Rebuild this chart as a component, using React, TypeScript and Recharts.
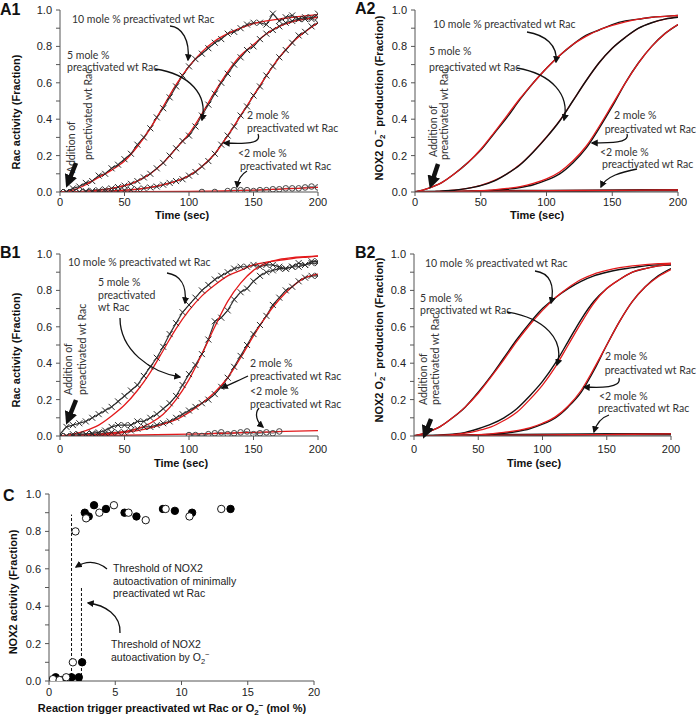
import React from 'react';
import { ComposedChart, ScatterChart, Line, Scatter, XAxis, YAxis, ReferenceLine } from 'recharts';

// ---------- data ----------
const T5 = [0, 5, 10, 15, 20, 25, 30, 35, 40, 45, 50, 55, 60, 65, 70, 75, 80, 85, 90, 95, 100,
  105, 110, 115, 120, 125, 130, 135, 140, 145, 150, 155, 160, 165, 170, 175, 180, 185, 190, 195, 200];
const T10 = [0, 10, 20, 30, 40, 50, 60, 70, 80, 90, 100, 110, 120, 130, 140, 150, 160, 170, 180, 190, 200];
const T50 = [0, 50, 100, 150, 200];

// A1 (Rac activity, data at 5 s, fits at 10 s)
const a1Data10 = [0, 0, 0.02, 0.03, 0.05, 0.06, 0.09, 0.1, 0.13, 0.15, 0.18, 0.21, 0.26, 0.3, 0.35, 0.41, 0.46, 0.52, 0.58, 0.64, 0.69,
  0.73, 0.76, 0.79, 0.82, 0.84, 0.87, 0.88, 0.9, 0.92, 0.93, 0.93, 0.92, 0.98, 0.94, 0.96, 0.97, 0.95, 0.96, 0.95, 0.98];
const a1Fit10 = [0, 0.01, 0.04, 0.08, 0.12, 0.17, 0.25, 0.35, 0.47, 0.59, 0.69, 0.77, 0.83, 0.87, 0.9, 0.925, 0.94, 0.95, 0.96, 0.968, 0.975];
const a1Data5 = [0, 0, 0, 0, 0.005, 0.007, 0.01, 0.015, 0.02, 0.027, 0.035, 0.045, 0.06, 0.08, 0.1, 0.13, 0.16, 0.2, 0.24, 0.28, 0.31,
  0.36, 0.42, 0.48, 0.54, 0.6, 0.65, 0.7, 0.74, 0.78, 0.8, 0.84, 0.87, 0.89, 0.91, 0.93, 0.94, 0.95, 0.95, 0.96, 0.96];
const a1Fit5 = [0, 0, 0.005, 0.01, 0.02, 0.035, 0.06, 0.1, 0.16, 0.24, 0.32, 0.43, 0.55, 0.66, 0.75, 0.81, 0.87, 0.91, 0.935, 0.95, 0.96];
const a1Data2 = [0, 0, 0, 0, 0, 0, 0, 0.003, 0.005, 0.007, 0.01, 0.012, 0.015, 0.02, 0.025, 0.03, 0.04, 0.05, 0.06, 0.07, 0.09,
  0.11, 0.14, 0.17, 0.21, 0.26, 0.31, 0.36, 0.42, 0.47, 0.53, 0.58, 0.64, 0.69, 0.74, 0.78, 0.82, 0.86, 0.88, 0.91, 0.93];
const a1Fit2 = [0, 0, 0, 0.003, 0.005, 0.01, 0.015, 0.025, 0.04, 0.06, 0.09, 0.14, 0.21, 0.31, 0.42, 0.53, 0.64, 0.74, 0.82, 0.88, 0.93];
const a1LowT = [110, 120, 130, 135, 140, 145, 150, 155, 160, 165, 170, 175, 180, 185, 190, 195, 200];
const a1LowData = [0, 0, 0.005, 0.01, 0.01, 0.01, 0.005, 0.01, 0.01, 0.015, 0.015, 0.02, 0.02, 0.02, 0.025, 0.03, 0.025];
const a1LowFit = [0, 0.001, 0.003, 0.01, 0.025];

// A2 (NOX2 O2- production)
const a2Data10 = [0, 0.02, 0.05, 0.1, 0.16, 0.23, 0.32, 0.41, 0.51, 0.6, 0.68, 0.75, 0.81, 0.86, 0.89, 0.92, 0.94, 0.95, 0.96, 0.965, 0.97];
const a2Fit10 = [0, 0.02, 0.05, 0.1, 0.16, 0.235, 0.325, 0.42, 0.515, 0.6, 0.68, 0.75, 0.81, 0.855, 0.89, 0.915, 0.935, 0.95, 0.96, 0.965, 0.97];
const a2Data5 = [0, 0, 0.005, 0.01, 0.02, 0.035, 0.06, 0.1, 0.15, 0.22, 0.3, 0.39, 0.5, 0.61, 0.71, 0.79, 0.85, 0.9, 0.93, 0.95, 0.96];
const a2Fit5 = [0, 0, 0.005, 0.01, 0.02, 0.036, 0.062, 0.1, 0.152, 0.222, 0.302, 0.392, 0.5, 0.61, 0.71, 0.79, 0.85, 0.9, 0.93, 0.95, 0.962];
const a2Data2 = [0, 0, 0, 0, 0.003, 0.005, 0.01, 0.015, 0.025, 0.04, 0.065, 0.1, 0.16, 0.24, 0.35, 0.47, 0.6, 0.71, 0.8, 0.87, 0.92];
const a2Fit2 = [0, 0, 0, 0.002, 0.004, 0.007, 0.012, 0.02, 0.03, 0.047, 0.072, 0.11, 0.17, 0.25, 0.36, 0.48, 0.6, 0.71, 0.8, 0.87, 0.92];
const a2LowData = [0, 0.003, 0.006, 0.008, 0.01];
const a2LowFit = [0, 0.004, 0.007, 0.009, 0.011];

// B1 (Rac activity)
const b1Data10 = [0.01, 0.05, 0.06, 0.07, 0.08, 0.1, 0.12, 0.14, 0.16, 0.19, 0.22, 0.25, 0.28, 0.33, 0.38, 0.43, 0.49, 0.56, 0.62, 0.68, 0.72,
  0.76, 0.8, 0.83, 0.86, 0.88, 0.9, 0.92, 0.93, 0.93, 0.94, 0.93, 0.94, 0.94, 0.93, 0.92, 0.93, 0.95, 0.94, 0.96, 0.96];
const b1Fit10 = [0, 0.01, 0.03, 0.06, 0.11, 0.17, 0.25, 0.35, 0.47, 0.59, 0.69, 0.77, 0.83, 0.88, 0.91, 0.94, 0.955, 0.965, 0.975, 0.982, 0.988];
const b1Data5 = [0, 0, 0.01, 0.01, 0.01, 0.015, 0.02, 0.03, 0.05, 0.06, 0.06, 0.06, 0.08, 0.08, 0.1, 0.12, 0.15, 0.18, 0.22, 0.28, 0.34,
  0.39, 0.45, 0.53, 0.63, 0.65, 0.69, 0.75, 0.79, 0.81, 0.85, 0.88, 0.9, 0.91, 0.92, 0.92, 0.93, 0.93, 0.94, 0.95, 0.95];
const b1Fit5 = [0, 0, 0.005, 0.01, 0.015, 0.025, 0.04, 0.07, 0.12, 0.2, 0.31, 0.45, 0.6, 0.74, 0.84, 0.91, 0.95, 0.97, 0.98, 0.985, 0.99];
const b1Data2 = [0, 0, 0, 0.005, 0.01, 0.01, 0.01, 0.015, 0.02, 0.02, 0.02, 0.03, 0.04, 0.05, 0.05, 0.06, 0.07, 0.08, 0.1, 0.12, 0.14,
  0.16, 0.18, 0.2, 0.23, 0.27, 0.32, 0.38, 0.44, 0.5, 0.56, 0.61, 0.66, 0.72, 0.76, 0.8, 0.82, 0.85, 0.87, 0.88, 0.88];
const b1Fit2 = [0, 0, 0.003, 0.006, 0.01, 0.02, 0.03, 0.045, 0.065, 0.09, 0.13, 0.18, 0.24, 0.32, 0.43, 0.55, 0.66, 0.75, 0.82, 0.87, 0.89];
const b1LowT = [100, 105, 110, 115, 120, 125, 130, 135, 140, 145, 150, 155, 160, 165, 170];
const b1LowData = [0.005, 0.005, 0, 0.01, 0.015, 0.02, 0.01, 0.015, 0.02, 0.025, 0.01, 0.015, 0.02, 0.015, 0.025];
const b1LowFit = [0, 0.004, 0.01, 0.02, 0.03];

// B2 (NOX2 O2- production)
const b2Data10 = [0, 0.02, 0.05, 0.1, 0.16, 0.24, 0.33, 0.43, 0.53, 0.62, 0.7, 0.76, 0.81, 0.85, 0.88, 0.9, 0.915, 0.925, 0.935, 0.94, 0.94];
const b2Fit10 = [0, 0.02, 0.05, 0.1, 0.16, 0.235, 0.325, 0.42, 0.52, 0.61, 0.69, 0.76, 0.815, 0.86, 0.89, 0.91, 0.925, 0.935, 0.942, 0.947, 0.95];
const b2Data5 = [0, 0, 0.005, 0.01, 0.02, 0.04, 0.065, 0.1, 0.15, 0.22, 0.3, 0.4, 0.52, 0.64, 0.74, 0.81, 0.86, 0.9, 0.92, 0.935, 0.94];
const b2Fit5 = [0, 0, 0.004, 0.008, 0.016, 0.03, 0.05, 0.085, 0.13, 0.2, 0.28, 0.38, 0.5, 0.62, 0.73, 0.81, 0.86, 0.9, 0.92, 0.935, 0.945];
const b2Data2 = [0, 0, 0, 0, 0.003, 0.005, 0.01, 0.015, 0.025, 0.04, 0.065, 0.1, 0.16, 0.24, 0.36, 0.5, 0.63, 0.74, 0.82, 0.88, 0.92];
const b2Fit2 = [0, 0, 0, 0.002, 0.004, 0.007, 0.012, 0.02, 0.03, 0.045, 0.07, 0.105, 0.165, 0.25, 0.37, 0.5, 0.63, 0.74, 0.82, 0.875, 0.915];
const b2LowData = [0, 0.004, 0.007, 0.009, 0.01];
const b2LowFit = [0, 0.003, 0.006, 0.008, 0.012];

// C (NOX2 activity vs trigger mol %)
const cFilledX = [0.5, 0.95, 1.7, 2.25, 2.5, 2.7, 3.0, 3.4, 4.3, 5.7, 6.6, 8.6, 9.5, 10.8, 13.7];
const cFilledY = [0.02, 0.005, 0.02, 0.02, 0.1, 0.9, 0.88, 0.94, 0.92, 0.9, 0.88, 0.92, 0.91, 0.9, 0.92];
const cOpenX = [0.05, 0.3, 0.8, 1.3, 1.8, 2.0, 2.8, 3.8, 4.9, 6.0, 7.3, 8.8, 10.6, 13.0];
const cOpenY = [0, 0.01, 0.005, 0.02, 0.1, 0.8, 0.87, 0.9, 0.94, 0.9, 0.86, 0.92, 0.88, 0.92];
const cThresholdRac = [1.7, 0.89];
const cThresholdO2 = [2.45, 0.5];

const timeTicks = [0, 50, 100, 150, 200];
const fracTicks = [0, 0.1, 0.2, 0.3, 0.4, 0.5, 0.6, 0.7, 0.8, 0.9, 1.0];
const molTicks = [0, 5, 10, 15, 20];

// ---------- helpers ----------
const pts = (ts: number[], ys: number[]) => ts.map((t, i) => ({ t, y: ys[i] }));
const xy = (xs: number[], ys: number[]) => xs.map((x, i) => ({ x, y: ys[i] }));

const F_TICK = "'Liberation Sans', Arial, sans-serif";
const F_ANN = "Lato, 'Open Sans', sans-serif";
const RED = '#e31a1c';
const AX = '#555';

const fracFmt = (v: number) => (Math.round(v * 10) % 2 === 0 ? v.toFixed(1) : '');

const XDot = (p: any) => {
  const { cx, cy, index } = p;
  if (cx == null || cy == null) return <g key={index} />;
  const s = 3;
  return (
    <path key={index} d={`M${cx - s},${cy - s}L${cx + s},${cy + s}M${cx - s},${cy + s}L${cx + s},${cy - s}`}
      stroke="#2a2a2a" strokeWidth={1} fill="none" />
  );
};
const ODot = (p: any) => {
  const { cx, cy, index } = p;
  if (cx == null || cy == null) return <g key={index} />;
  return <circle key={index} cx={cx} cy={cy} r={2.8} fill="none" stroke="#444" strokeWidth={1} />;
};

const tickStyle = { fontSize: 11, fill: '#222', fontFamily: F_TICK };

type SeriesDef = { data: { t: number; y: number }[]; kind: 'x' | 'o' | 'black' | 'red' | 'thick'; };

function TimePanel(props: {
  left: number; top: number; width: number; height: number;
  margin: { top: number; right: number; bottom: number; left: number };
  yW: number; xH: number; tickMarginX: number; series: SeriesDef[];
}) {
  const { left, top, width, height, margin, yW, xH, tickMarginX, series } = props;
  return (
    <div style={{ position: 'absolute', left, top, width, height }}>
      <ComposedChart width={width} height={height} margin={margin}>
        <XAxis type="number" dataKey="t" domain={[0, 200]} ticks={timeTicks} height={xH}
          tickSize={4} tickMargin={tickMarginX} stroke={AX} tick={tickStyle} allowDataOverflow />
        <YAxis type="number" dataKey="y" domain={[0, 1]} ticks={fracTicks} width={yW}
          tickSize={4} tickMargin={4} stroke={AX} tick={tickStyle} tickFormatter={fracFmt} allowDataOverflow />
        {series.map((s, i) => {
          if (s.kind === 'x')
            return <Line key={i} data={s.data} dataKey="y" type="linear" stroke="#333" strokeWidth={1.2}
              dot={XDot} activeDot={false} isAnimationActive={false} />;
          if (s.kind === 'o')
            return <Line key={i} data={s.data} dataKey="y" type="linear" stroke="#555" strokeWidth={0.8}
              dot={ODot} activeDot={false} isAnimationActive={false} />;
          if (s.kind === 'black')
            return <Line key={i} data={s.data} dataKey="y" type="monotone" stroke="#111" strokeWidth={1.4}
              dot={false} activeDot={false} isAnimationActive={false} />;
          if (s.kind === 'thick')
            return <Line key={i} data={s.data} dataKey="y" type="monotone" stroke="#222" strokeWidth={2.5}
              dot={false} activeDot={false} isAnimationActive={false} />;
          return <Line key={i} data={s.data} dataKey="y" type="monotone" stroke={RED} strokeWidth={1.3}
            dot={false} activeDot={false} isAnimationActive={false} />;
        })}
      </ComposedChart>
    </div>
  );
}

// ---------- annotations ----------
type TextLine = [string, number, number, string?];
const annStyle: React.CSSProperties = { fontFamily: F_ANN, fontSize: 10.5, fill: '#333' };

const annA1: TextLine[] = [
  ['10 mole % preactivated wt Rac', 72, 23], ['5 mole %', 67, 59], ['preactivated wt Rac', 67, 71],
  ['2 mole %', 247, 119], ['preactivated wt Rac', 247, 132], ['<2 mole %', 238, 157], ['preactivated wt Rac', 240, 170],
];
const annA2: TextLine[] = [
  ['10 mole % preactivated wt Rac', 433, 28], ['5 mole %', 429, 55], ['preactivated wt Rac', 429, 71],
  ['2 mole %', 614, 119], ['preactivated wt Rac', 696, 133, 'end'], ['<2 mole %', 600, 156], ['preactivated wt Rac', 602, 168],
];
const annB1: TextLine[] = [
  ['10 mole % preactivated wt Rac', 68, 266], ['5 mole %', 98, 286], ['preactivated', 98, 299], ['wt Rac', 98, 311],
  ['2 mole %', 250, 367], ['preactivated wt Rac', 250, 380], ['<2 mole %', 250, 395], ['preactivated wt Rac', 250, 408],
];
const annB2: TextLine[] = [
  ['10 mole % preactivated wt Rac', 425, 267], ['5 mole %', 420, 302], ['preactivated wt Rac', 420, 314],
  ['2 mole %', 605, 360], ['preactivated wt Rac', 696, 374, 'end'], ['<2 mole %', 599, 400], ['preactivated wt Rac', 598, 412],
];
const vertAnn: TextLine[] = [
  ['Addition of', 71, 173], ['preactivated wt Rac', 88, 160],
  ['Addition of', 433, 157], ['preactivated wt Rac', 444, 160],
  ['Addition of', 68, 395], ['preactivated wt Rac', 82, 395],
  ['Addition of', 423, 405], ['preactivated wt Rac', 435, 405],
];
const arrows = [
  'M170,26 C182,27 190,40 188,60', 'M155,69 C190,74 208,95 202,120', 'M258,134 C262,144 245,144 224,143', 'M247,171 C240,175 238,180 237,187',
  'M527,32 C545,35 558,45 556,62', 'M517,68 C552,74 570,95 564,120', 'M627,134 C630,143 610,143 592,143', 'M637,169 C622,172 606,176 601,187',
  'M167,273 C180,275 187,285 185,303', 'M120,318 C120,350 150,372 180,377', 'M248,376 C240,380 232,383 222,388', 'M259,408 C254,414 257,422 263,427',
  'M535,271 C550,273 555,285 551,303', 'M507,312 C545,318 565,340 557,365', 'M619,378 C622,388 600,388 584,387', 'M609,415 C600,418 596,425 594,432',
  'M107,569 Q92,557 76,567', 'M120,633 C121,615 105,605 88,603',
];
const thickArrows = ['M76,163 L70,178', 'M438,164 L433,179', 'M76,400 L70,415', 'M431,419 L427,429'];

function Overlay() {
  const bold: React.CSSProperties = { fontFamily: F_TICK, fontWeight: 700, fontSize: 11, fill: '#111' };
  const panel: React.CSSProperties = { fontFamily: F_TICK, fontWeight: 700, fontSize: 16, fill: '#111' };
  const small = { fontSize: 8 };
  const noxTitle = (cx: number, cy: number) => (
    <text transform={`translate(${cx},${cy}) rotate(-90)`} textAnchor="middle" dominantBaseline="central" style={bold}>
      NOX2 O<tspan dy={3} style={small}>2</tspan><tspan dy={-7} style={small}>−</tspan><tspan dy={4}> production (Fraction)</tspan>
    </text>
  );
  const all = [...annA1, ...annA2, ...annB1, ...annB2];
  return (
    <svg width={697} height={716} style={{ position: 'absolute', left: 0, top: 0, pointerEvents: 'none' }}>
      <defs>
        <marker id="ah" viewBox="0 0 10 10" refX="8" refY="5" markerWidth="5.5" markerHeight="5.5" orient="auto">
          <path d="M0,0 L10,5 L0,10 z" fill="#111" />
        </marker>
        <marker id="ahBig" viewBox="0 0 10 10" refX="2" refY="5" markerWidth="13" markerHeight="13" markerUnits="userSpaceOnUse" orient="auto">
          <path d="M0,0 L10,5 L0,10 z" fill="#111" />
        </marker>
      </defs>
      <text x={0} y={15} style={panel}>A1</text>
      <text x={355} y={14} style={panel}>A2</text>
      <text x={0} y={258} style={panel}>B1</text>
      <text x={355} y={258} style={panel}>B2</text>
      <text x={3} y={501} style={panel}>C</text>

      <text transform="translate(16,112) rotate(-90)" textAnchor="middle" dominantBaseline="central" style={bold}>Rac activity (Fraction)</text>
      <text transform="translate(16,350) rotate(-90)" textAnchor="middle" dominantBaseline="central" style={bold}>Rac activity (Fraction)</text>
      {noxTitle(379, 98)}
      {noxTitle(379, 340)}
      <text transform="translate(13,592) rotate(-90)" textAnchor="middle" dominantBaseline="central" style={bold}>NOX2 activity (Fraction)</text>

      <text x={182} y={219} textAnchor="middle" style={bold}>Time (sec)</text>
      <text x={537} y={219} textAnchor="middle" style={bold}>Time (sec)</text>
      <text x={181} y={467} textAnchor="middle" style={bold}>Time (sec)</text>
      <text x={534} y={467} textAnchor="middle" style={bold}>Time (sec)</text>
      <text x={172} y={712} textAnchor="middle" style={bold}>
        Reaction trigger preactivated wt Rac or O<tspan dy={3} style={small}>2</tspan><tspan dy={-7} style={small}>−</tspan><tspan dy={4}> (mol %)</tspan>
      </text>

      {all.map(([s, x, y, anchor], i) => (
        <text key={'a' + i} x={x} y={y} textAnchor={anchor || 'start'} style={annStyle}>{s}</text>
      ))}
      {vertAnn.map(([s, x, y], i) => (
        <text key={'v' + i} transform={`translate(${x},${y}) rotate(-90)`} dominantBaseline="central" style={annStyle}>{s}</text>
      ))}
      {arrows.map((d, i) => (
        <path key={'p' + i} d={d} fill="none" stroke="#111" strokeWidth={1.3} markerEnd="url(#ah)" />
      ))}
      {thickArrows.map((d, i) => (
        <path key={'t' + i} d={d} fill="none" stroke="#111" strokeWidth={4.5} markerEnd="url(#ahBig)" />
      ))}

      <g style={{ fontFamily: F_TICK, fontSize: 10.5, fill: '#222' }}>
        <text x={113} y={572}>Threshold of NOX2</text>
        <text x={113} y={585}>autoactivation of minimally</text>
        <text x={113} y={597}>preactivated wt Rac</text>
        <text x={111} y={648}>Threshold of NOX2</text>
        <text x={111} y={661}>autoactivation by O<tspan dy={3} style={{ fontSize: 7.5 }}>2</tspan><tspan dy={-7} style={{ fontSize: 7.5 }}>−</tspan></text>
      </g>
    </svg>
  );
}

export default function App() {
  return (
    <div style={{ position: 'absolute', left: 0, top: 0, width: 697, height: 716, background: '#fff', fontFamily: F_TICK }}>
      <TimePanel left={0} top={0} width={347} height={225} margin={{ top: 10, right: 29, bottom: 0, left: 0 }}
        yW={60} xH={33} tickMarginX={2}
        series={[
          { data: pts(T5, a1Data10), kind: 'x' }, { data: pts(T5, a1Data5), kind: 'x' }, { data: pts(T5, a1Data2), kind: 'x' },
          { data: pts(a1LowT, a1LowData), kind: 'o' },
          { data: pts(T10, a1Fit10), kind: 'red' }, { data: pts(T10, a1Fit5), kind: 'red' }, { data: pts(T10, a1Fit2), kind: 'red' },
          { data: pts(T50, a1LowFit), kind: 'red' },
        ]} />
      <TimePanel left={347} top={0} width={350} height={225} margin={{ top: 10, right: 19, bottom: 0, left: 0 }}
        yW={68} xH={33} tickMarginX={2}
        series={[
          { data: pts(T50, a2LowData), kind: 'thick' }, { data: pts(T50, a2LowFit), kind: 'red' },
          { data: pts(T10, a2Data10), kind: 'black' }, { data: pts(T10, a2Fit10), kind: 'red' },
          { data: pts(T10, a2Fit5), kind: 'red' }, { data: pts(T10, a2Data5), kind: 'black' },
          { data: pts(T10, a2Data2), kind: 'black' }, { data: pts(T10, a2Fit2), kind: 'red' },
        ]} />
      <TimePanel left={0} top={225} width={347} height={244} margin={{ top: 29, right: 29, bottom: 0, left: 0 }}
        yW={60} xH={33} tickMarginX={5}
        series={[
          { data: pts(T5, b1Data10), kind: 'x' }, { data: pts(T5, b1Data5), kind: 'x' }, { data: pts(T5, b1Data2), kind: 'x' },
          { data: pts(b1LowT, b1LowData), kind: 'o' },
          { data: pts(T10, b1Fit10), kind: 'red' }, { data: pts(T10, b1Fit5), kind: 'red' }, { data: pts(T10, b1Fit2), kind: 'red' },
          { data: pts(T50, b1LowFit), kind: 'red' },
        ]} />
      <TimePanel left={347} top={225} width={350} height={244} margin={{ top: 29, right: 26, bottom: 0, left: 0 }}
        yW={67} xH={33} tickMarginX={5}
        series={[
          { data: pts(T50, b2LowData), kind: 'thick' }, { data: pts(T50, b2LowFit), kind: 'red' },
          { data: pts(T10, b2Data10), kind: 'black' }, { data: pts(T10, b2Fit10), kind: 'red' },
          { data: pts(T10, b2Data5), kind: 'black' }, { data: pts(T10, b2Fit5), kind: 'red' },
          { data: pts(T10, b2Data2), kind: 'black' }, { data: pts(T10, b2Fit2), kind: 'red' },
        ]} />
      <div style={{ position: 'absolute', left: 0, top: 470, width: 347, height: 246 }}>
        <ScatterChart width={347} height={246} margin={{ top: 24, right: 33, bottom: 0, left: 0 }}>
          <XAxis type="number" dataKey="x" domain={[0, 20]} ticks={molTicks} height={35}
            tickSize={4} tickMargin={3} stroke={AX} tick={tickStyle} allowDataOverflow />
          <YAxis type="number" dataKey="y" domain={[0, 1]} ticks={fracTicks} width={49}
            tickSize={4} tickMargin={4} stroke={AX} tick={tickStyle} tickFormatter={fracFmt} allowDataOverflow />
          <ReferenceLine segment={[{ x: cThresholdRac[0], y: 0 }, { x: cThresholdRac[0], y: cThresholdRac[1] }]}
            stroke="#111" strokeDasharray="3 2" strokeWidth={1} ifOverflow="visible" />
          <ReferenceLine segment={[{ x: cThresholdO2[0], y: 0 }, { x: cThresholdO2[0], y: cThresholdO2[1] }]}
            stroke="#111" strokeDasharray="3 2" strokeWidth={1} ifOverflow="visible" />
          <Scatter data={xy(cFilledX, cFilledY)} fill="#000" stroke="#000" isAnimationActive={false}
            shape={(p: any) => <circle cx={p.cx} cy={p.cy} r={3.7} fill="#000" stroke="#000" />} />
          <Scatter data={xy(cOpenX, cOpenY)} fill="#fff" stroke="#000" isAnimationActive={false}
            shape={(p: any) => <circle cx={p.cx} cy={p.cy} r={3.7} fill="#fff" stroke="#000" strokeWidth={0.9} />} />
        </ScatterChart>
      </div>
      <Overlay />
    </div>
  );
}
